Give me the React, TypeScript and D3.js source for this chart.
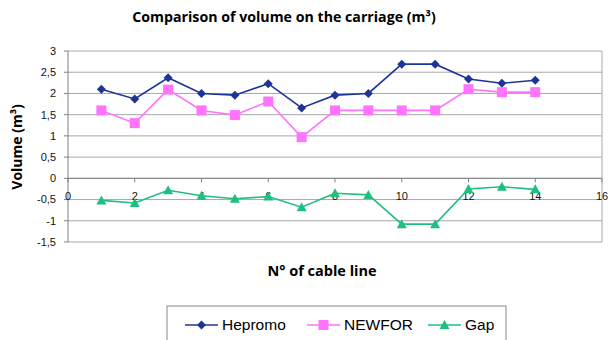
import React from "react";
import * as d3 from "d3";

const xValues = [1, 2, 3, 4, 5, 6, 7, 8, 9, 10, 11, 12, 13, 14];
const hepromo = [2.1, 1.87, 2.37, 2.0, 1.96, 2.23, 1.66, 1.96, 2.0, 2.69, 2.69, 2.34, 2.24, 2.31];
const newfor = [1.6, 1.3, 2.09, 1.6, 1.49, 1.81, 0.97, 1.6, 1.6, 1.6, 1.6, 2.1, 2.03, 2.03];
const gap = [-0.52, -0.58, -0.28, -0.41, -0.48, -0.43, -0.68, -0.35, -0.39, -1.08, -1.08, -0.25, -0.2, -0.26];
const xTicks = [0, 2, 4, 6, 8, 10, 12, 14, 16];
const yTicks = [-1.5, -1, -0.5, 0, 0.5, 1, 1.5, 2, 2.5, 3];
const seriesNames = ["Hepromo", "NEWFOR", "Gap"];

const W = 611, H = 340;
const left = 68, right = 602, top = 51, bottom = 242;

export default function App() {
  const x = d3.scaleLinear().domain([0, 16]).range([left, right]);
  const y = d3.scaleLinear().domain([-1.5, 3]).range([bottom, top]);
  const fmt = (v: number) => String(v).replace(".", ",");
  const line = d3.line<[number, number]>().x(d => x(d[0])).y(d => y(d[1]));
  const series = [
    { name: seriesNames[0], data: hepromo, color: "#1f3497", shape: "diamond" },
    { name: seriesNames[1], data: newfor, color: "#ff73ff", shape: "square" },
    { name: seriesNames[2], data: gap, color: "#1fbf80", shape: "triangle" },
  ];
  const marker = (shape: string, cx: number, cy: number, color: string, key: any) => {
    if (shape === "diamond") {
      const s = 4.5;
      return <path key={key} d={`M${cx},${cy - s}L${cx + s},${cy}L${cx},${cy + s}L${cx - s},${cy}Z`} fill={color} />;
    }
    if (shape === "square") {
      const s = 5;
      return <rect key={key} x={cx - s} y={cy - s} width={2 * s} height={2 * s} fill={color} />;
    }
    const s = 5;
    return <path key={key} d={`M${cx},${cy - s}L${cx + s},${cy + s * 0.8}L${cx - s},${cy + s * 0.8}Z`} fill={color} />;
  };
  const font = "'Liberation Sans', Arial, sans-serif";
  const titleFont = "'Open Sans', sans-serif";
  const legendItems = [
    { x1: 185, tx: 222 },
    { x1: 307, tx: 344 },
    { x1: 428, tx: 465 },
  ];
  return (
    <svg width={W} height={H} style={{ position: "absolute", left: 0, top: 0, background: "#fff" }}>
      <rect x={0} y={0} width={W} height={H} fill="#fff" />
      <text x={284} y={22} textAnchor="middle" fontFamily={titleFont} fontWeight="bold" fontSize={14.2} fill="#000">
        Comparison of volume on the carriage (m³)
      </text>
      {yTicks.map(t => (
        <line key={"g" + t} x1={left} x2={right} y1={y(t)} y2={y(t)} stroke="#a8a8a8" strokeWidth={1} />
      ))}
      <line x1={right} x2={right} y1={top} y2={bottom} stroke="#a8a8a8" />
      <line x1={left} x2={left} y1={top} y2={bottom} stroke="#808080" />
      <line x1={left} x2={right} y1={y(0)} y2={y(0)} stroke="#808080" />
      {yTicks.map(t => (
        <g key={"y" + t}>
          <line x1={left - 4} x2={left} y1={y(t)} y2={y(t)} stroke="#808080" />
          <text x={56} y={y(t)} dy="0.35em" textAnchor="end" fontFamily={font} fontSize={11} fill="#111">{fmt(t)}</text>
        </g>
      ))}
      {xTicks.map(t => (
        <g key={"x" + t}>
          <line x1={x(t)} x2={x(t)} y1={y(0)} y2={y(0) + 4} stroke="#808080" />
          <text x={x(t)} y={y(0) + 22} textAnchor="middle" fontFamily={font} fontSize={11} fill="#111">{t}</text>
        </g>
      ))}
      {series.map(s => {
        const pts: [number, number][] = xValues.map((xv, i) => [xv, s.data[i]]);
        return (
          <g key={s.name}>
            <path d={line(pts) || ""} fill="none" stroke={s.color} strokeWidth={1.6} />
            {pts.map((p, i) => marker(s.shape, x(p[0]), y(p[1]), s.color, i))}
          </g>
        );
      })}
      <text transform={`translate(22,${147}) rotate(-90)`} textAnchor="middle" fontFamily={titleFont} fontWeight="bold" fontSize={14} fill="#000">
        Volume (m³)
      </text>
      <text x={322} y={276} textAnchor="middle" fontFamily={titleFont} fontWeight="bold" fontSize={14.5} fill="#000">
        N° of cable line
      </text>
      <rect x={167} y={306} width={339} height={40} fill="#fff" stroke="#888" />
      {series.map((s, i) => (
        <g key={"l" + s.name}>
          <line x1={legendItems[i].x1} x2={legendItems[i].x1 + 33} y1={325} y2={325} stroke={s.color} strokeWidth={1.6} />
          {marker(s.shape, legendItems[i].x1 + 16.5, 325, s.color, "m")}
          <text x={legendItems[i].tx} y={325} dy="0.35em" fontFamily={font} fontSize={15.5} fill="#000">{s.name}</text>
        </g>
      ))}
    </svg>
  );
}
